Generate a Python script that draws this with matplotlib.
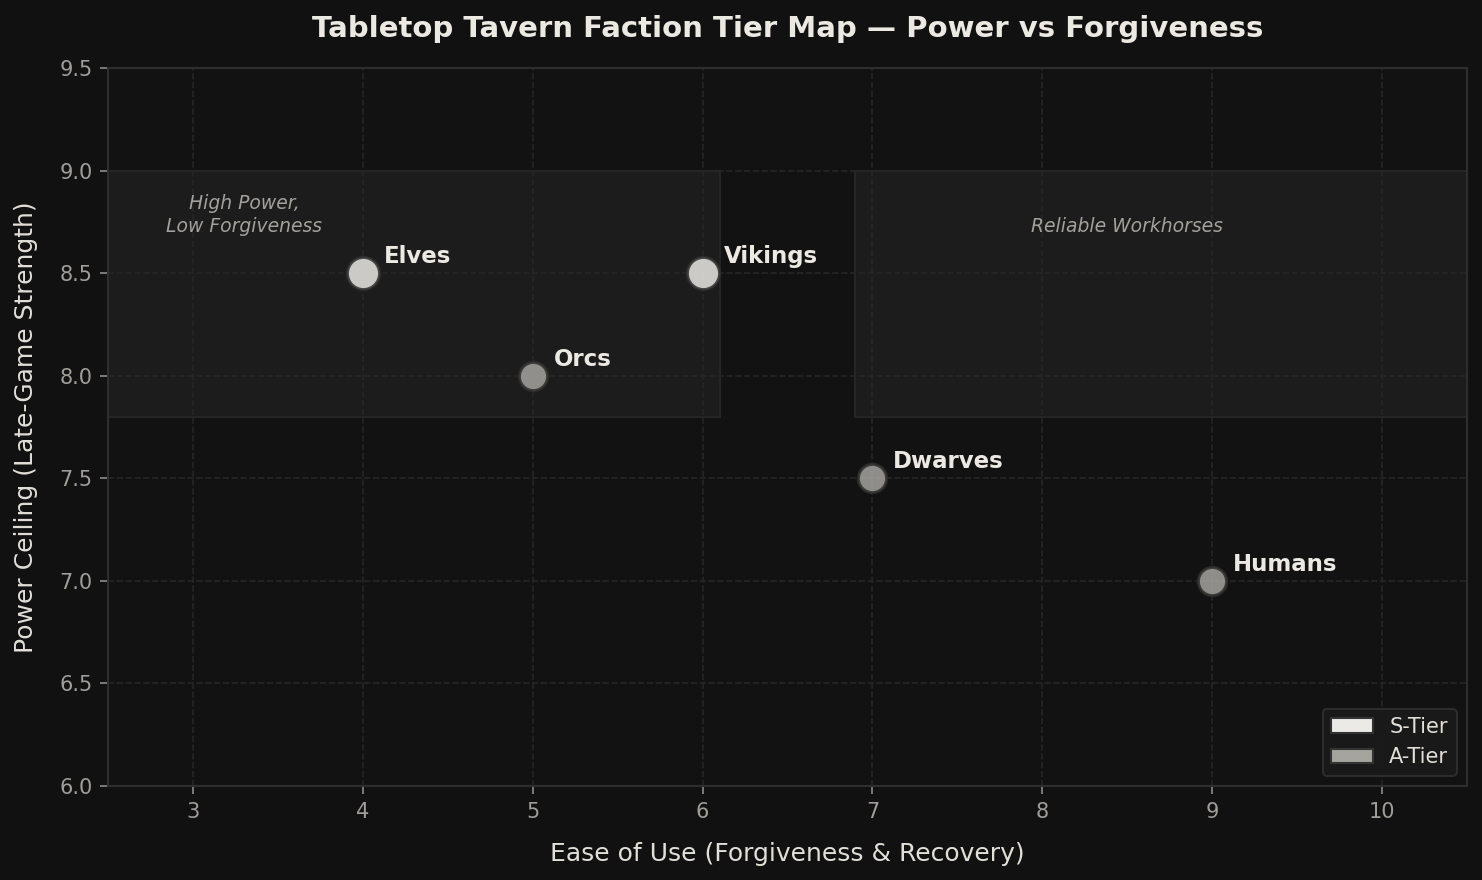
"""Tabletop tavern faction tier map."""

import matplotlib

matplotlib.use("Agg")
import matplotlib.pyplot as plt
from matplotlib.patches import Patch, Rectangle

# data
factions = ["Elves", "Orcs", "Vikings", "Dwarves", "Humans"]
ease = [4, 5, 6, 7, 9]
power = [8.5, 8.0, 8.5, 7.5, 7.0]
tiers = ["S", "A", "S", "A", "A"]

tier_names = {"S": "S-Tier", "A": "A-Tier"}
tier_colors = {"S": "#ebeae6", "A": "#a6a49f"}
tier_sizes = {"S": 240, "A": 185}

# zones: (x0, x1, y0, y1, label, label_x, label_y)
zones = [
    (2.5, 6.1, 7.8, 9.0, "High Power,\nLow Forgiveness", 3.3, 8.68),
    (6.9, 10.5, 7.8, 9.0, "Reliable Workhorses", 8.5, 8.68),
]

BG = "#111111"
FG = "#ece9e3"
MUTED = "#a09e99"

plt.rcParams["font.family"] = "DejaVu Sans"

fig = plt.figure(figsize=(9.88, 5.8667), dpi=150, facecolor=BG)
ax = fig.add_axes([0.0729, 0.1068, 0.917, 0.8159])
ax.set_facecolor("#121212")

# zones sous la grille
for x0, x1, y0, y1, label, lx, ly in zones:
    ax.add_patch(Rectangle((x0, y0), x1 - x0, y1 - y0, facecolor="#1c1c1c",
                           edgecolor="#252525", lw=1.0, zorder=0.2))
    ax.text(lx, ly, label, ha="center", va="bottom", fontsize=9,
            style="italic", color="#a3a19c", zorder=2, linespacing=1.25)

for name, x, y, t in zip(factions, ease, power, tiers):
    ax.scatter(x, y, s=tier_sizes[t], color=tier_colors[t], alpha=0.85,
               edgecolor="#2e2e2c", linewidth=1.5, zorder=4)
    ax.annotate(name, (x, y), xytext=(10, 2.5), textcoords="offset points",
                ha="left", va="bottom", fontsize=11, fontweight="bold",
                color=FG, zorder=5)

ax.set_xlim(2.5, 10.5)
ax.set_ylim(6.0, 9.5)
ax.set_xticks(range(3, 11))
ax.set_yticks([6.0, 6.5, 7.0, 7.5, 8.0, 8.5, 9.0, 9.5])
ax.yaxis.set_major_formatter(matplotlib.ticker.FormatStrFormatter("%.1f"))
ax.tick_params(colors="#8f8d88", labelcolor=MUTED, labelsize=10, length=4)
ax.grid(True, color="#262626", linestyle="--", linewidth=0.8, zorder=0.5)
ax.set_axisbelow(True)
for sp in ax.spines.values():
    sp.set_color("#2e2e2e")
    sp.set_linewidth(1.0)

ax.set_xlabel("Ease of Use (Forgiveness & Recovery)", fontsize=12, color="#e2dfd8", labelpad=10)
ax.set_ylabel("Power Ceiling (Late-Game Strength)", fontsize=12, color="#e2dfd8", labelpad=10)
ax.set_title("Tabletop Tavern Faction Tier Map — Power vs Forgiveness", fontsize=14,
             fontweight="bold", color=FG, pad=15)

handles = [Patch(facecolor=tier_colors[k], edgecolor="#333333", label=tier_names[k])
           for k in ["S", "A"]]
leg = ax.legend(handles=handles, loc="lower right", fontsize=10, facecolor="#1a1a1a",
                edgecolor="#2e2e2e", framealpha=0.95, labelcolor="#e2dfd8")

fig.savefig("out.png", dpi=150, facecolor=BG)
